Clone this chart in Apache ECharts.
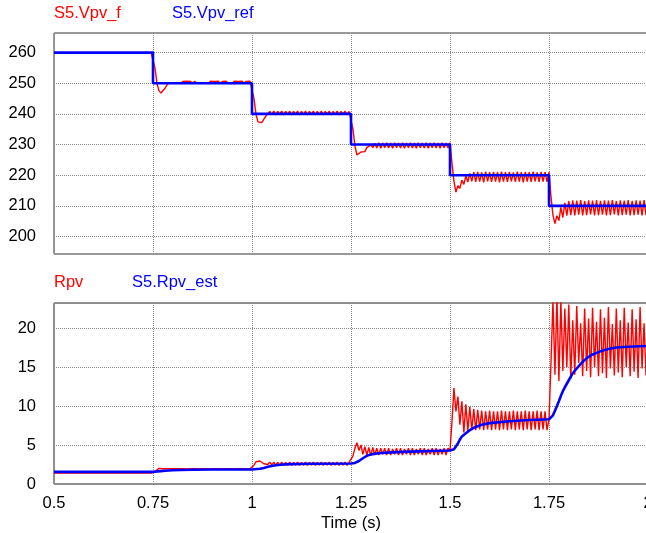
<!DOCTYPE html>
<html>
<head>
<meta charset="utf-8">
<title>PV voltage and resistance estimate</title>
<script src="https://cdn.jsdelivr.net/npm/echarts@6/dist/echarts.min.js"></script>
<style>
  html, body { margin: 0; padding: 0; background: #fff; }
  #chart { width: 646px; height: 533px; }
</style>
</head>
<body>
<div id="chart"></div>
<script>
// Axis ticks
const timeTicks = [0.5, 0.75, 1, 1.25, 1.5, 1.75, 2];
const vpvTicks = [200, 210, 220, 230, 240, 250, 260];
const rpvTicks = [0, 5, 10, 15, 20];

// Sampling step of the measured traces after each set-point change (s)
const SAMPLE_STEP = 0.005;

// S5.Vpv_ref : voltage set-point, [time, V]
const vpvRef = [
  [0.5, 260], [0.75, 260], [0.75, 250], [1.0, 250], [1.0, 240],
  [1.25, 240], [1.25, 230], [1.5, 230], [1.5, 220], [1.75, 220],
  [1.75, 210], [2.0, 210]
];

// S5.Vpv_f : filtered PV voltage
const vpvFStart = [[0.5, 260], [0.745, 260]];
const vpvF075 = [
  260, 255, 250, 247.6, 246.8, 247.3, 248.3, 249.4, 250.2, 250.7,
  250.0, 250.6, 250.1, 250.7, 249.9, 250.6, 250.0, 250.7, 250.1, 250.6,
  249.9, 250.7, 250.0, 250.6, 250.1, 250.7, 250.0, 250.6, 249.9, 250.7,
  250.1, 250.6, 250.0, 250.7, 249.9, 250.6, 250.1, 250.7, 250.0, 250.6,
  249.9, 250.7, 250.1, 250.6, 250.0, 250.7, 249.9, 250.6, 250.1, 250.7
];
const vpvF100 = [
  250.4, 245, 240, 237.4, 236.8, 237.2, 238.3, 239.3, 240.1, 240.8,
  239.8, 240.9, 239.7, 240.8, 239.9, 240.9, 239.7, 240.8, 239.8, 240.9,
  239.7, 240.8, 239.9, 240.9, 239.7, 240.8, 239.8, 240.9, 239.7, 240.8,
  239.9, 240.9, 239.7, 240.8, 239.8, 240.9, 239.7, 240.8, 239.9, 240.9,
  239.7, 240.8, 239.8, 240.9, 239.7, 240.8, 239.9, 240.9, 239.7, 240.8
];
const vpvF125 = [
  240.5, 235, 229.5, 226.6, 226.3, 227.6, 228.1, 227.7, 229.0, 228.6,
  229.9, 229.0, 230.4, 228.9, 230.6, 228.8, 230.5, 229.0, 230.6, 228.9,
  230.5, 228.8, 230.6, 229.0, 230.5, 228.9, 230.6, 228.8, 230.5, 229.0,
  230.6, 228.9, 230.5, 228.8, 230.6, 229.0, 230.5, 228.9, 230.6, 228.8,
  230.5, 229.0, 230.6, 228.9, 230.5, 228.8, 230.6, 229.0, 230.5, 228.9
];
const vpvF150 = [
  230.6, 224, 218, 214.5, 216.6, 215.7, 218.4, 217.0, 219.8, 217.8,
  220.6, 218.0, 221.0, 217.8, 221.1, 217.9, 220.9, 217.7, 221.2, 218.0,
  221.0, 217.8, 221.1, 217.9, 221.0, 217.7, 221.2, 217.9, 221.0, 217.8,
  221.1, 218.0, 220.9, 217.8, 221.2, 217.9, 221.0, 217.7, 221.1, 217.9,
  221.0, 217.8, 221.2, 218.0, 220.9, 217.8, 221.1, 217.9, 221.0, 217.8
];
const vpvF175 = [
  221.0, 213, 207, 204.2, 206.8, 205.2, 209.5, 206.2, 211.0, 206.8,
  211.6, 207.0, 211.8, 206.9, 211.7, 207.1, 211.9, 206.9, 211.6, 207.0,
  211.8, 207.2, 211.7, 206.9, 211.9, 207.0, 211.6, 207.1, 211.8, 206.9,
  211.7, 207.0, 211.9, 207.2, 211.6, 206.9, 211.8, 207.0, 211.7, 207.1,
  211.9, 206.9, 211.6, 207.0, 211.8, 207.1, 211.7, 206.9, 211.9, 207.0
];
const vpvFEnd = [[2.0, 211.6]];

// Rpv : actual PV resistance
const rpvStart = [[0.5, 1.4], [0.745, 1.4]];
const rpv075 = [
  1.4, 1.6, 1.85, 2.0, 2.05, 1.95, 1.8, 1.95, 1.75, 1.95,
  1.7, 1.95, 1.72, 1.95, 1.7, 1.95, 1.72, 1.93, 1.7, 1.95,
  1.72, 1.95, 1.7, 1.93, 1.72, 1.95, 1.7, 1.95, 1.72, 1.93,
  1.7, 1.95, 1.72, 1.95, 1.7, 1.93, 1.72, 1.95, 1.7, 1.95,
  1.72, 1.93, 1.7, 1.95, 1.72, 1.95, 1.7, 1.93, 1.72, 1.95
];
const rpv100 = [
  1.85, 2.4, 2.85, 3.0, 2.95, 2.75, 2.6, 2.85, 2.5, 2.8,
  2.45, 2.8, 2.4, 2.78, 2.42, 2.8, 2.4, 2.78, 2.42, 2.8,
  2.4, 2.78, 2.42, 2.8, 2.4, 2.78, 2.42, 2.8, 2.4, 2.78,
  2.42, 2.8, 2.4, 2.78, 2.42, 2.8, 2.4, 2.78, 2.42, 2.8,
  2.4, 2.78, 2.42, 2.8, 2.4, 2.78, 2.42, 2.8, 2.4, 2.78
];
const rpv125 = [
  2.6, 3.6, 4.6, 5.3, 4.3, 5.0, 3.8, 4.8, 3.7, 4.7,
  3.6, 4.7, 3.7, 4.6, 3.7, 4.6, 3.8, 4.6, 3.7, 4.6,
  3.7, 4.5, 3.8, 4.6, 3.7, 4.6, 3.7, 4.5, 3.8, 4.6,
  3.7, 4.6, 3.7, 4.5, 3.8, 4.6, 3.7, 4.6, 3.7, 4.5,
  3.8, 4.6, 3.7, 4.6, 3.7, 4.5, 3.8, 4.6, 3.7, 4.6
];
const rpv150 = [
  4.3, 8.0, 12.3, 9.3, 11.2, 7.6, 10.6, 6.6, 10.2, 6.8,
  9.9, 6.9, 9.6, 6.9, 9.5, 7.0, 9.4, 6.9, 9.3, 7.0,
  9.4, 6.9, 9.3, 7.0, 9.3, 6.9, 9.4, 7.0, 9.3, 6.9,
  9.3, 7.0, 9.4, 6.9, 9.3, 7.0, 9.3, 6.9, 9.4, 7.0,
  9.3, 6.9, 9.3, 7.0, 9.4, 6.9, 9.3, 7.0, 9.3, 6.9
];
const rpv175 = [
  8.3, 15.5, 23.5, 14.0, 24.0, 13.2, 23.5, 14.5, 22.5, 15.0,
  23.0, 13.5, 21.0, 14.0, 22.8, 15.5, 20.6, 13.8, 22.5, 14.5,
  21.2, 13.7, 22.6, 15.0, 20.8, 13.8, 22.4, 14.2, 21.3, 13.6,
  22.7, 14.8, 20.5, 13.9, 22.5, 14.3, 21.0, 13.7, 22.6, 15.0,
  20.7, 13.8, 22.4, 14.4, 21.1, 13.6, 22.7, 14.8, 20.6, 13.9
];
const rpvEnd = [[2.0, 22.5]];

// S5.Rpv_est : estimated PV resistance, [time, ohm]
const rpvEst = [
  [0.5, 1.55], [0.75, 1.55], [0.76, 1.6], [0.77, 1.65], [0.78, 1.7],
  [0.8, 1.76], [0.82, 1.8], [0.85, 1.83], [0.9, 1.85], [1.0, 1.86],
  [1.02, 1.95], [1.03, 2.05], [1.04, 2.2], [1.06, 2.4], [1.08, 2.5],
  [1.1, 2.55], [1.15, 2.6], [1.25, 2.62], [1.26, 2.7], [1.27, 2.95],
  [1.28, 3.3], [1.29, 3.6], [1.3, 3.8], [1.32, 3.95], [1.35, 4.05],
  [1.4, 4.15], [1.5, 4.3], [1.51, 4.45], [1.515, 4.7], [1.52, 5.2],
  [1.525, 5.7], [1.53, 6.1], [1.54, 6.5], [1.55, 6.9], [1.56, 7.2],
  [1.58, 7.6], [1.6, 7.8], [1.65, 8.05], [1.7, 8.2], [1.75, 8.3],
  [1.755, 8.4], [1.76, 8.8], [1.765, 9.4], [1.77, 10.0], [1.775, 10.6],
  [1.78, 11.3], [1.785, 11.9], [1.79, 12.4], [1.8, 13.3], [1.81, 14.2],
  [1.82, 14.8], [1.83, 15.4], [1.84, 15.9], [1.85, 16.3], [1.86, 16.6],
  [1.88, 17.0], [1.9, 17.3], [1.92, 17.5], [1.95, 17.6], [2.0, 17.7]
];

// Turn a block of equally spaced samples into [time, value] pairs
function samples(t0, values) {
  return values.map((v, i) => [+(t0 + i * SAMPLE_STEP).toFixed(4), v]);
}

const vpvF = [].concat(
  vpvFStart,
  samples(0.75, vpvF075), samples(1.0, vpvF100), samples(1.25, vpvF125),
  samples(1.5, vpvF150), samples(1.75, vpvF175),
  vpvFEnd
);
const rpv = [].concat(
  rpvStart,
  samples(0.75, rpv075), samples(1.0, rpv100), samples(1.25, rpv125),
  samples(1.5, rpv150), samples(1.75, rpv175),
  rpvEnd
);

const FONT = '"Liberation Sans", Arial, sans-serif';
const FS = 16.5;
const RED = '#ff0000';
const BLUE = '#0000ff';

const gridLine = { show: true, lineStyle: { color: '#8a8a8a', type: 'dotted', width: 1 } };
const labelStyle = { color: '#000', fontSize: FS, fontFamily: FONT };
const titleStyle = (color) => ({ color: color, fontSize: FS, fontWeight: 'normal', fontFamily: FONT });

const chart = echarts.init(document.getElementById('chart'), null, { renderer: 'canvas' });

chart.setOption({
  animation: false,
  backgroundColor: '#fff',
  title: [
    { text: 'S5.Vpv_f', left: 54, top: 5, padding: 0, textStyle: titleStyle(RED) },
    { text: 'S5.Vpv_ref', left: 172, top: 5, padding: 0, textStyle: titleStyle(BLUE) },
    { text: 'Rpv', left: 54, top: 274, padding: 0, textStyle: titleStyle(RED) },
    { text: 'S5.Rpv_est', left: 132, top: 274, padding: 0, textStyle: titleStyle(BLUE) }
  ],
  grid: [
    { left: 54, top: 33, width: 594, height: 221, outerBoundsMode: 'none', containLabel: false,
      show: true, borderColor: '#333', borderWidth: 1, backgroundColor: 'transparent' },
    { left: 54, top: 303, width: 594, height: 181, outerBoundsMode: 'none', containLabel: false,
      show: true, borderColor: '#222', borderWidth: 1, backgroundColor: 'transparent' }
  ],
  xAxis: [
    {
      type: 'value', gridIndex: 0, min: timeTicks[0], max: timeTicks[timeTicks.length - 1], interval: 0.25,
      axisLine: { show: false }, axisTick: { show: false }, axisLabel: { show: false },
      splitLine: gridLine
    },
    {
      type: 'value', gridIndex: 1, min: timeTicks[0], max: timeTicks[timeTicks.length - 1], interval: 0.25,
      name: 'Time (s)', nameLocation: 'middle', nameGap: 31,
      nameTextStyle: { color: '#000', fontSize: FS, fontFamily: FONT },
      axisLine: { show: false }, axisTick: { show: false },
      axisLabel: Object.assign({ margin: 11, showMaxLabel: true, showMinLabel: true, hideOverlap: false }, labelStyle),
      splitLine: gridLine
    }
  ],
  yAxis: [
    {
      type: 'value', gridIndex: 0, min: 194.3, max: 266.4,
      axisLine: { show: false },
      axisTick: { show: false, customValues: vpvTicks },
      axisLabel: Object.assign({ margin: 18, customValues: vpvTicks }, labelStyle),
      splitLine: gridLine
    },
    {
      type: 'value', gridIndex: 1, min: rpvTicks[0], max: 23.2, interval: 5,
      axisLine: { show: false }, axisTick: { show: false },
      axisLabel: Object.assign({ margin: 18, showMaxLabel: false }, labelStyle),
      splitLine: gridLine
    }
  ],
  series: [
    {
      name: 'S5.Vpv_f', type: 'line', xAxisIndex: 0, yAxisIndex: 0, data: vpvF,
      showSymbol: false, lineStyle: { color: RED, width: 1.4 }, clip: true, z: 2
    },
    {
      name: 'S5.Vpv_ref', type: 'line', xAxisIndex: 0, yAxisIndex: 0, data: vpvRef,
      showSymbol: false, lineStyle: { color: BLUE, width: 2.6 }, clip: true, z: 3
    },
    {
      name: 'Rpv', type: 'line', xAxisIndex: 1, yAxisIndex: 1, data: rpv,
      showSymbol: false, lineStyle: { color: RED, width: 1.4 }, clip: true, z: 2
    },
    {
      name: 'S5.Rpv_est', type: 'line', xAxisIndex: 1, yAxisIndex: 1, data: rpvEst,
      showSymbol: false, lineStyle: { color: BLUE, width: 2.6 }, clip: true, z: 3
    }
  ]
});
</script>
</body>
</html>
